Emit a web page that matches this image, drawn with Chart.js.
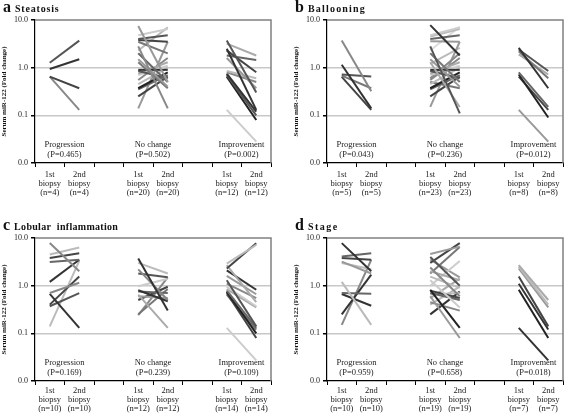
<!DOCTYPE html>
<html><head><meta charset="utf-8">
<script src="https://cdn.jsdelivr.net/npm/chart.js@4.4.1/dist/chart.umd.min.js"></script>
<style>
body{margin:0;background:#fff;width:567px;height:417px;position:relative;overflow:hidden;font-family:"Liberation Serif",serif}
.panel{position:absolute;width:280px;height:218px}
.panel canvas{position:absolute;left:0;top:0}
.ttl{position:absolute;left:3px;top:-1px;white-space:nowrap;font-weight:bold;color:#111;line-height:16px}
.ttl .l{font-size:16px}
.ttl .w{font-size:10px;margin-left:4px}
</style></head><body>
<div class="panel" style="left:0;top:0"><canvas id="ca" width="280" height="218"></canvas><div class="ttl"><span class="l">a</span><span class="w" style="letter-spacing:0.8px">Steatosis</span></div></div>
<div class="panel" style="left:292px;top:0"><canvas id="cb" width="275" height="218"></canvas><div class="ttl"><span class="l">b</span><span class="w" style="letter-spacing:1.2px">Ballooning</span></div></div>
<div class="panel" style="left:0;top:218px"><canvas id="cc" width="280" height="199"></canvas><div class="ttl"><span class="l">c</span><span class="w" style="letter-spacing:0.3px;word-spacing:3px">Lobular inflammation</span></div></div>
<div class="panel" style="left:292px;top:218px"><canvas id="cd" width="275" height="199"></canvas><div class="ttl"><span class="l">d</span><span class="w" style="letter-spacing:1.5px">Stage</span></div></div>
<script>
const groups = ['Progression', 'No change', 'Improvement'];
const yTickValues = [0.01, 0.1, 1, 10];
const yTitle = 'Serum miR-122 (Fold change)';

// Panel a: Steatosis
const aPvals = ['P=0.465', 'P=0.502', 'P=0.002'];
const aProg1 = [1.27, 0.94, 0.65, 0.65];
const aProg2 = [3.7, 1.5, 0.37, 0.13];
const aNoch1 = [7.5, 4.8, 4.0, 3.8, 3.5, 2.8, 2.3, 2.0, 1.5, 1.3, 0.9, 0.85, 0.75, 0.7, 0.55, 0.45, 0.37, 0.35, 0.25, 0.14];
const aNoch2 = [0.5, 6.5, 4.8, 3.5, 2.0, 0.14, 7.0, 0.5, 0.4, 0.37, 0.9, 0.6, 1.3, 1.1, 1.6, 1.0, 0.8, 0.7, 0.65, 3.5];
const aImp1 = [3.7, 3.2, 2.5, 2.3, 1.8, 1.6, 0.85, 0.8, 0.75, 0.7, 0.65, 0.13];
const aImp2 = [0.3, 1.8, 0.13, 0.8, 1.45, 0.37, 0.6, 0.5, 0.12, 0.1, 0.08, 0.028];

// Panel b: Ballooning
const bPvals = ['P=0.043', 'P=0.236', 'P=0.012'];
const bProg1 = [3.7, 1.15, 0.72, 0.68, 0.64];
const bProg2 = [0.32, 0.14, 0.65, 0.37, 0.13];
const bNoch1 = [7.8, 4.8, 4.5, 4.0, 3.6, 2.8, 2.3, 2.0, 1.5, 1.3, 0.9, 0.85, 0.75, 0.7, 0.6, 0.55, 0.45, 0.37, 0.35, 0.25, 0.15, 0.5, 1.2];
const bNoch2 = [1.8, 7.0, 6.5, 4.8, 3.5, 0.11, 7.2, 0.5, 0.4, 0.15, 0.9, 0.6, 1.3, 1.1, 2.0, 1.6, 1.0, 0.8, 0.7, 0.65, 3.5, 0.37, 2.6];
const bImp1 = [2.6, 2.4, 2.2, 1.9, 0.8, 0.72, 0.65, 0.13];
const bImp2 = [0.37, 0.85, 0.6, 0.72, 0.15, 0.09, 0.13, 0.028];

// Panel c: Lobular inflammation
const cPvals = ['P=0.169', 'P=0.239', 'P=0.109'];
const cProg1 = [7.85, 4.5, 3.8, 3.15, 1.2, 0.7, 0.67, 0.4, 0.37, 0.14];
const cProg2 = [2.0, 6.3, 4.8, 3.5, 3.5, 1.15, 0.13, 1.55, 0.7, 3.3];
const cNoch1 = [3.7, 3.0, 2.2, 1.8, 0.97, 0.8, 0.75, 0.65, 0.6, 0.5, 0.25, 0.24];
const cNoch2 = [0.3, 1.8, 0.5, 1.5, 1.4, 0.47, 0.7, 0.13, 0.55, 0.95, 0.85, 1.5];
const cImp1 = [2.9, 2.3, 2.7, 2.1, 1.6, 1.3, 1.1, 0.95, 0.85, 0.8, 0.75, 0.7, 0.65, 0.13];
const cImp2 = [7.2, 7.8, 0.45, 0.82, 0.66, 0.14, 0.55, 0.37, 0.35, 0.13, 0.1, 0.08, 0.12, 0.027];

// Panel d: Stage
const dPvals = ['P=0.959', 'P=0.658', 'P=0.018'];
const dProg1 = [7.8, 4.1, 3.8, 3.2, 3.0, 1.2, 0.7, 0.67, 0.25, 0.15];
const dProg2 = [2.0, 4.8, 3.5, 1.8, 2.2, 0.15, 0.68, 0.38, 1.7, 3.5];
const dNoch1 = [4.6, 4.0, 3.0, 2.4, 2.0, 1.8, 1.55, 1.3, 1.0, 0.82, 0.78, 0.7, 0.65, 0.6, 0.55, 0.45, 0.4, 0.25, 3.5];
const dNoch2 = [6.6, 1.0, 7.8, 0.6, 1.3, 6.5, 0.9, 0.35, 3.3, 0.13, 0.55, 0.5, 0.7, 0.08, 1.4, 0.3, 0.95, 0.75, 1.5];
const dImp1 = [2.7, 2.5, 2.3, 1.55, 1.1, 0.82, 0.13];
const dImp2 = [0.5, 0.4, 0.35, 0.14, 0.12, 0.08, 0.027];

// Line shades (styles kept separate from data)
const aShades = [['#555','#333','#444','#888'],
  ['#999','#ccc','#555','#444','#777','#888','#bbb','#666','#999','#777','#333','#555','#aaa','#ccc','#888','#bbb','#222','#666','#444','#999'],
  ['#555','#aaa','#333','#444','#666','#999','#bbb','#888','#333','#555','#222','#ccc']];
const bShades = [['#888','#333','#555','#777','#444'],
  ['#333','#ccc','#bbb','#666','#999','#555','#ddd','#777','#999','#aaa','#333','#555','#aaa','#ccc','#888','#888','#bbb','#222','#666','#444','#999','#777','#bbb'],
  ['#333','#555','#777','#aaa','#666','#222','#444','#999']];
const cShades = [['#888','#bbb','#444','#666','#333','#888','#333','#444','#555','#bbb'],
  ['#333','#bbb','#888','#555','#ccc','#333','#666','#aaa','#999','#444','#777','#888'],
  ['#bbb','#444','#aaa','#333','#999','#555','#888','#ccc','#aaa','#666','#222','#444','#777','#ccc']];
const dShades = [['#333','#666','#444','#999','#bbb','#bbb','#666','#333','#333','#888'],
  ['#999','#555','#444','#888','#aaa','#777','#bbb','#ccc','#ccc','#222','#444','#666','#bbb','#999','#aaa','#888','#bbb','#333','#999'],
  ['#aaa','#bbb','#999','#444','#333','#222','#333']];

const FONT = '"Liberation Serif", "Times New Roman", serif';

const groupText = {
  id: 'groupText',
  afterDatasetsDraw(chart, args, opts) {
    const {ctx, scales: {x, y}} = chart;
    ctx.save();
    ctx.font = '8.5px ' + FONT;
    ctx.fillStyle = '#222';
    ctx.textAlign = 'center';
    ctx.textBaseline = 'middle';
    opts.groups.forEach((g, i) => {
      const cx = (x.getPixelForValue(i * 3) + x.getPixelForValue(i * 3 + 1)) / 2;
      ctx.fillText(g, cx, y.getPixelForValue(0.024));
      ctx.fillText('(' + opts.pvals[i] + ')', cx, y.getPixelForValue(0.0148));
    });
    ctx.restore();
  }
};
const frame = {
  id: 'frame',
  beforeDatasetsDraw(chart) {
    const {ctx, chartArea: a} = chart;
    ctx.save();
    ctx.strokeStyle = '#808080';
    ctx.lineWidth = 1.5;
    ctx.beginPath();
    ctx.moveTo(a.left, a.top);
    ctx.lineTo(a.right, a.top);
    ctx.lineTo(a.right, a.bottom);
    ctx.stroke();
    ctx.restore();
  }
};

function build(id, sets, shades, pvals, xHeight, rightPad, labelPad) {
  const counts = sets.map(s => s[0].length);
  const labels = [];
  counts.forEach((n, i) => {
    labels.push(['1st', 'biopsy', '(n=' + n + ')']);
    labels.push(['2nd', 'biopsy', '(n=' + n + ')']);
    if (i < 2) labels.push('');
  });
  const datasets = [];
  sets.forEach((s, g) => {
    s[0].forEach((v1, k) => {
      const d = new Array(8).fill(null);
      d[g * 3] = v1;
      d[g * 3 + 1] = s[1][k];
      datasets.push({data: d, borderColor: shades[g][k], backgroundColor: shades[g][k], borderWidth: 2, pointRadius: 0, spanGaps: false});
    });
  });
  new Chart(document.getElementById(id), {
    type: 'line',
    data: {labels, datasets},
    plugins: [groupText, frame],
    options: {
      responsive: false,
      animation: false,
      layout: {padding: {left: 0, right: rightPad, top: 20, bottom: 0}},
      plugins: {legend: {display: false}, tooltip: {enabled: false}, groupText: {groups, pvals}},
      scales: {
        x: {
          type: 'category', offset: true,
          grid: {offset: true, drawOnChartArea: false, tickLength: 4, color: '#000', tickColor: '#000', lineWidth: 1},
          border: {color: '#000', width: 1.2},
          ticks: {autoSkip: false, maxRotation: 0, padding: labelPad, color: '#222', font: {family: FONT, size: 8.5, lineHeight: 1.05}},
          afterFit(s) { s.height = xHeight; }
        },
        y: {
          type: 'logarithmic', min: 0.01, max: 10,
          afterBuildTicks(s) { s.ticks = yTickValues.map(v => ({value: v})); },
          ticks: {callback: v => Number(v).toFixed(1), color: '#222', padding: 3, font: {family: FONT, size: 8}},
          grid: {
            color: c => (c.tick && (c.tick.value === 0.1 || c.tick.value === 1)) ? '#c8c8c8' : 'rgba(0,0,0,0)',
            tickColor: '#000', tickLength: 4, lineWidth: 1.5
          },
          border: {color: '#000', width: 1.2},
          title: {display: true, text: yTitle, color: '#111', padding: 0, font: {family: FONT, size: 7, weight: 'bold'}},
          afterFit(s) { s.width = 35; }
        }
      }
    }
  });
}

build('ca', [[aProg1, aProg2], [aNoch1, aNoch2], [aImp1, aImp2]], aShades, aPvals, 55, 9, 3);
build('cb', [[bProg1, bProg2], [bNoch1, bNoch2], [bImp1, bImp2]], bShades, bPvals, 55, 4, 3);
build('cc', [[cProg1, cProg2], [cNoch1, cNoch2], [cImp1, cImp2]], cShades, cPvals, 36, 9, 1);
build('cd', [[dProg1, dProg2], [dNoch1, dNoch2], [dImp1, dImp2]], dShades, dPvals, 36, 4, 1);
</script>
</body></html>
